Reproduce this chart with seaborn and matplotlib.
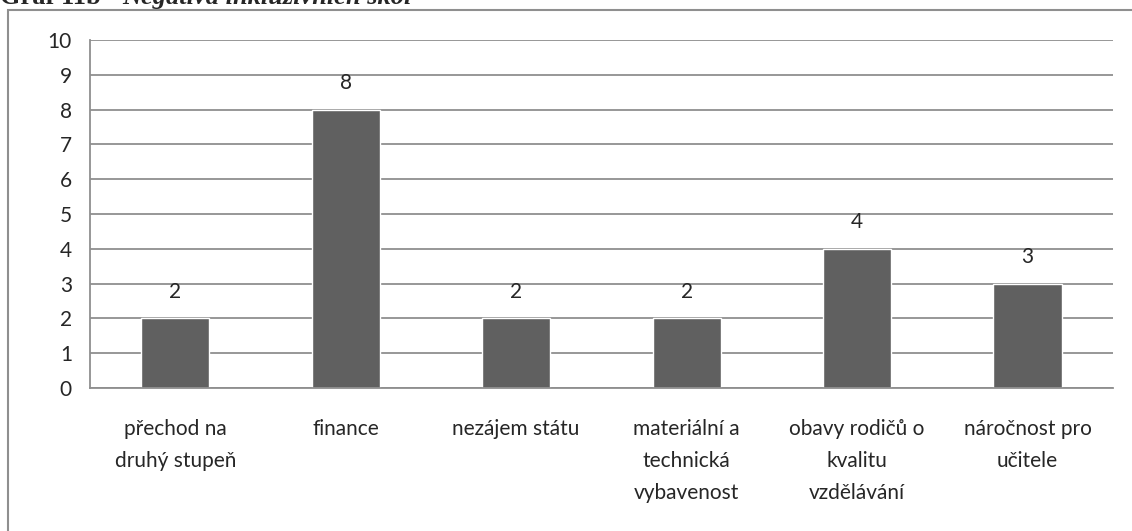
import matplotlib
matplotlib.use("Agg")
import matplotlib.pyplot as plt
import seaborn as sns
import pandas as pd
import numpy as np
from matplotlib.patches import Rectangle

categories = ["přechod na\ndruhý stupeň", "finance", "nezájem státu",
              "materiální a\ntechnická\nvybavenost", "obavy rodičů o\nkvalitu\nvzdělávání",
              "náročnost pro\nučitele"]
values = [2, 8, 2, 2, 4, 3]
y_ticks = list(range(0, 11))
title_a = "Graf 11b"
title_b = "Negativa inkluzivních škol"

sns.set_style("white")
plt.rcParams["font.family"] = ["Lato", "DejaVu Sans"]

df = pd.DataFrame({"kategorie": categories, "pocet": values})

fig = plt.figure(figsize=(11.32, 5.31), dpi=100)
ax = fig.add_axes([0.0795, 0.2693, 0.9035, 0.6554])

sns.barplot(data=df, x="kategorie", y="pocet", color="#606060", width=0.4,
            saturation=1, ax=ax)

grid_c = "#8f8f8f"
ax.set_ylim(0, 10)
ax.set_xlim(-0.5, len(categories) - 0.5)
ax.set_yticks(y_ticks)
ax.yaxis.grid(True, color=grid_c, linewidth=1.3)
ax.set_axisbelow(True)
ax.set_xlabel("")
ax.set_ylabel("")
for s in ["top", "right"]:
    ax.spines[s].set_visible(False)
for s in ["left", "bottom"]:
    ax.spines[s].set_color(grid_c)
    ax.spines[s].set_linewidth(1.3)

ax.tick_params(axis="y", length=6, color=grid_c, width=1.3, labelsize=15, pad=7)
ax.tick_params(axis="x", which="major", length=0, labelsize=15, pad=22)
ax.set_xticks(np.arange(-0.5, len(categories) + 0.5, 1), minor=True)
ax.tick_params(axis="x", which="minor", length=7, color=grid_c, width=1.3)
for lbl in ax.get_xticklabels():
    lbl.set_linespacing(1.75)
    lbl.set_ha("center")

for i, v in enumerate(values):
    ax.annotate(str(v), (i, v), xytext=(0, 19), textcoords="offset points",
                ha="center", va="center", fontsize=15)

# outer chart frame (cut off at right and bottom)
fig.patches.append(Rectangle((8 / 1132, -0.05), 1.2, 1 - 10 / 531 + 0.05,
                             transform=fig.transFigure, fill=False,
                             edgecolor=grid_c, linewidth=1.5))

# title, mostly cropped above the image
fig.text(0 / 1132, 1 - 4 / 531, title_a, fontsize=19, fontweight="bold",
         family="Liberation Serif", va="baseline", ha="left")
fig.text(122 / 1132, 1 - 4 / 531, title_b, fontsize=19, fontweight="bold",
         fontstyle="italic", family="Liberation Serif", va="baseline", ha="left")

fig.savefig("out.png", dpi=100)
